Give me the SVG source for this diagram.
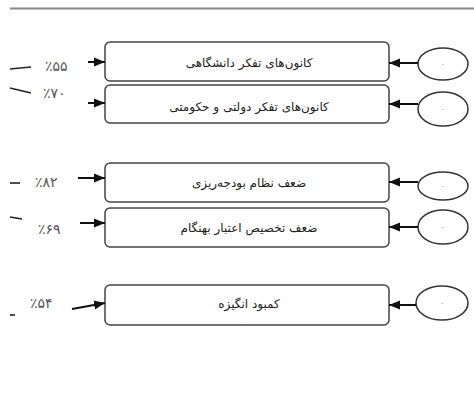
<svg xmlns="http://www.w3.org/2000/svg" width="474" height="403" viewBox="0 0 474 403">
<style>
.box{fill:#fff;stroke:#444;stroke-width:1.5}
.ell{fill:#fff;stroke:#333;stroke-width:1.5}
.lbl{font-family:"DejaVu Sans",sans-serif;font-size:12px;fill:#222;text-anchor:middle}
.pct{font-family:"DejaVu Sans",sans-serif;font-size:14px;fill:#555}
.dot{font-family:"DejaVu Sans",sans-serif;font-size:6px;fill:#777;text-anchor:middle}
.ar{stroke:#111;stroke-width:2;fill:none}
.dash{stroke:#222;stroke-width:1.6}
</style>
<defs>
<marker id="ah" markerUnits="userSpaceOnUse" markerWidth="11" markerHeight="10" viewBox="0 0 11 10" refX="11" refY="5" orient="auto">
<path d="M0,0.5 L11,5 L0,9.5 Z" fill="#111"/>
</marker>
</defs>
<line x1="10" y1="8.5" x2="474" y2="8.5" stroke="#888" stroke-width="2"/>
<g id="node1">
<rect class="box" x="105" y="42" width="284" height="39" rx="5"/>
<text class="lbl" x="249" y="67" direction="rtl">کانون‌های تفکر دانشگاهی</text>
</g>
<g id="node2">
<rect class="box" x="105" y="85" width="284" height="38" rx="5"/>
<text class="lbl" x="249" y="111" direction="rtl">کانون‌های تفکر دولتی و حکومتی</text>
</g>
<g id="node3">
<rect class="box" x="105" y="163" width="284" height="39" rx="5"/>
<text class="lbl" x="249" y="187" direction="rtl">ضعف نظام بودجه‌ریزی</text>
</g>
<g id="node4">
<rect class="box" x="105" y="208" width="284" height="39" rx="5"/>
<text class="lbl" x="249" y="232" direction="rtl">ضعف تخصیص اعتبار بهنگام</text>
</g>
<g id="node5">
<rect class="box" x="105" y="285" width="284" height="40" rx="5"/>
<text class="lbl" x="249" y="308" direction="rtl">کمبود انگیزه</text>
</g>
<g id="ell1"><ellipse class="ell" cx="443" cy="64" rx="25" ry="16"/><text class="dot" x="443" y="66">-</text></g>
<g id="ell2"><ellipse class="ell" cx="443" cy="109" rx="25" ry="17"/><text class="dot" x="443" y="111">-</text></g>
<g id="ell3"><ellipse class="ell" cx="443" cy="186" rx="25" ry="14"/><text class="dot" x="443" y="188">-</text></g>
<g id="ell4"><ellipse class="ell" cx="443" cy="227" rx="25" ry="17"/><text class="dot" x="443" y="229">-</text></g>
<g id="ell5"><ellipse class="ell" cx="442" cy="303" rx="26" ry="17"/><text class="dot" x="442" y="305">-</text></g>
<g id="labels">
<text class="pct" x="45" y="71">٪۵۵</text>
<text class="pct" x="43" y="98">٪۷۰</text>
<text class="pct" x="35" y="187">٪۸۲</text>
<text class="pct" x="38" y="234">٪۶۹</text>
<text class="pct" x="30" y="308">٪۵۴</text>
<line class="dash" x1="10" y1="69" x2="31" y2="67"/>
<line class="dash" x1="10" y1="88" x2="31" y2="93"/>
<line class="dash" x1="10" y1="183" x2="20" y2="183"/>
<line class="dash" x1="10" y1="217" x2="22" y2="219"/>
<line class="dash" x1="10" y1="315" x2="15" y2="315"/>
</g>
<g id="connectors">
<line class="ar" x1="88" y1="62" x2="105" y2="62" marker-end="url(#ah)"/>
<line class="ar" x1="88" y1="103" x2="105" y2="103" marker-end="url(#ah)"/>
<line class="ar" x1="78" y1="178" x2="105" y2="178" marker-end="url(#ah)"/>
<line class="ar" x1="80" y1="223" x2="105" y2="223" marker-end="url(#ah)"/>
<line class="ar" x1="72" y1="309" x2="105" y2="303" marker-end="url(#ah)"/>
<line class="ar" x1="418" y1="63" x2="389" y2="63" marker-end="url(#ah)"/>
<line class="ar" x1="418" y1="104" x2="389" y2="104" marker-end="url(#ah)"/>
<line class="ar" x1="418" y1="182" x2="389" y2="182" marker-end="url(#ah)"/>
<line class="ar" x1="418" y1="227" x2="389" y2="227" marker-end="url(#ah)"/>
<line class="ar" x1="416" y1="305" x2="389" y2="305" marker-end="url(#ah)"/>
</g>
</svg>
